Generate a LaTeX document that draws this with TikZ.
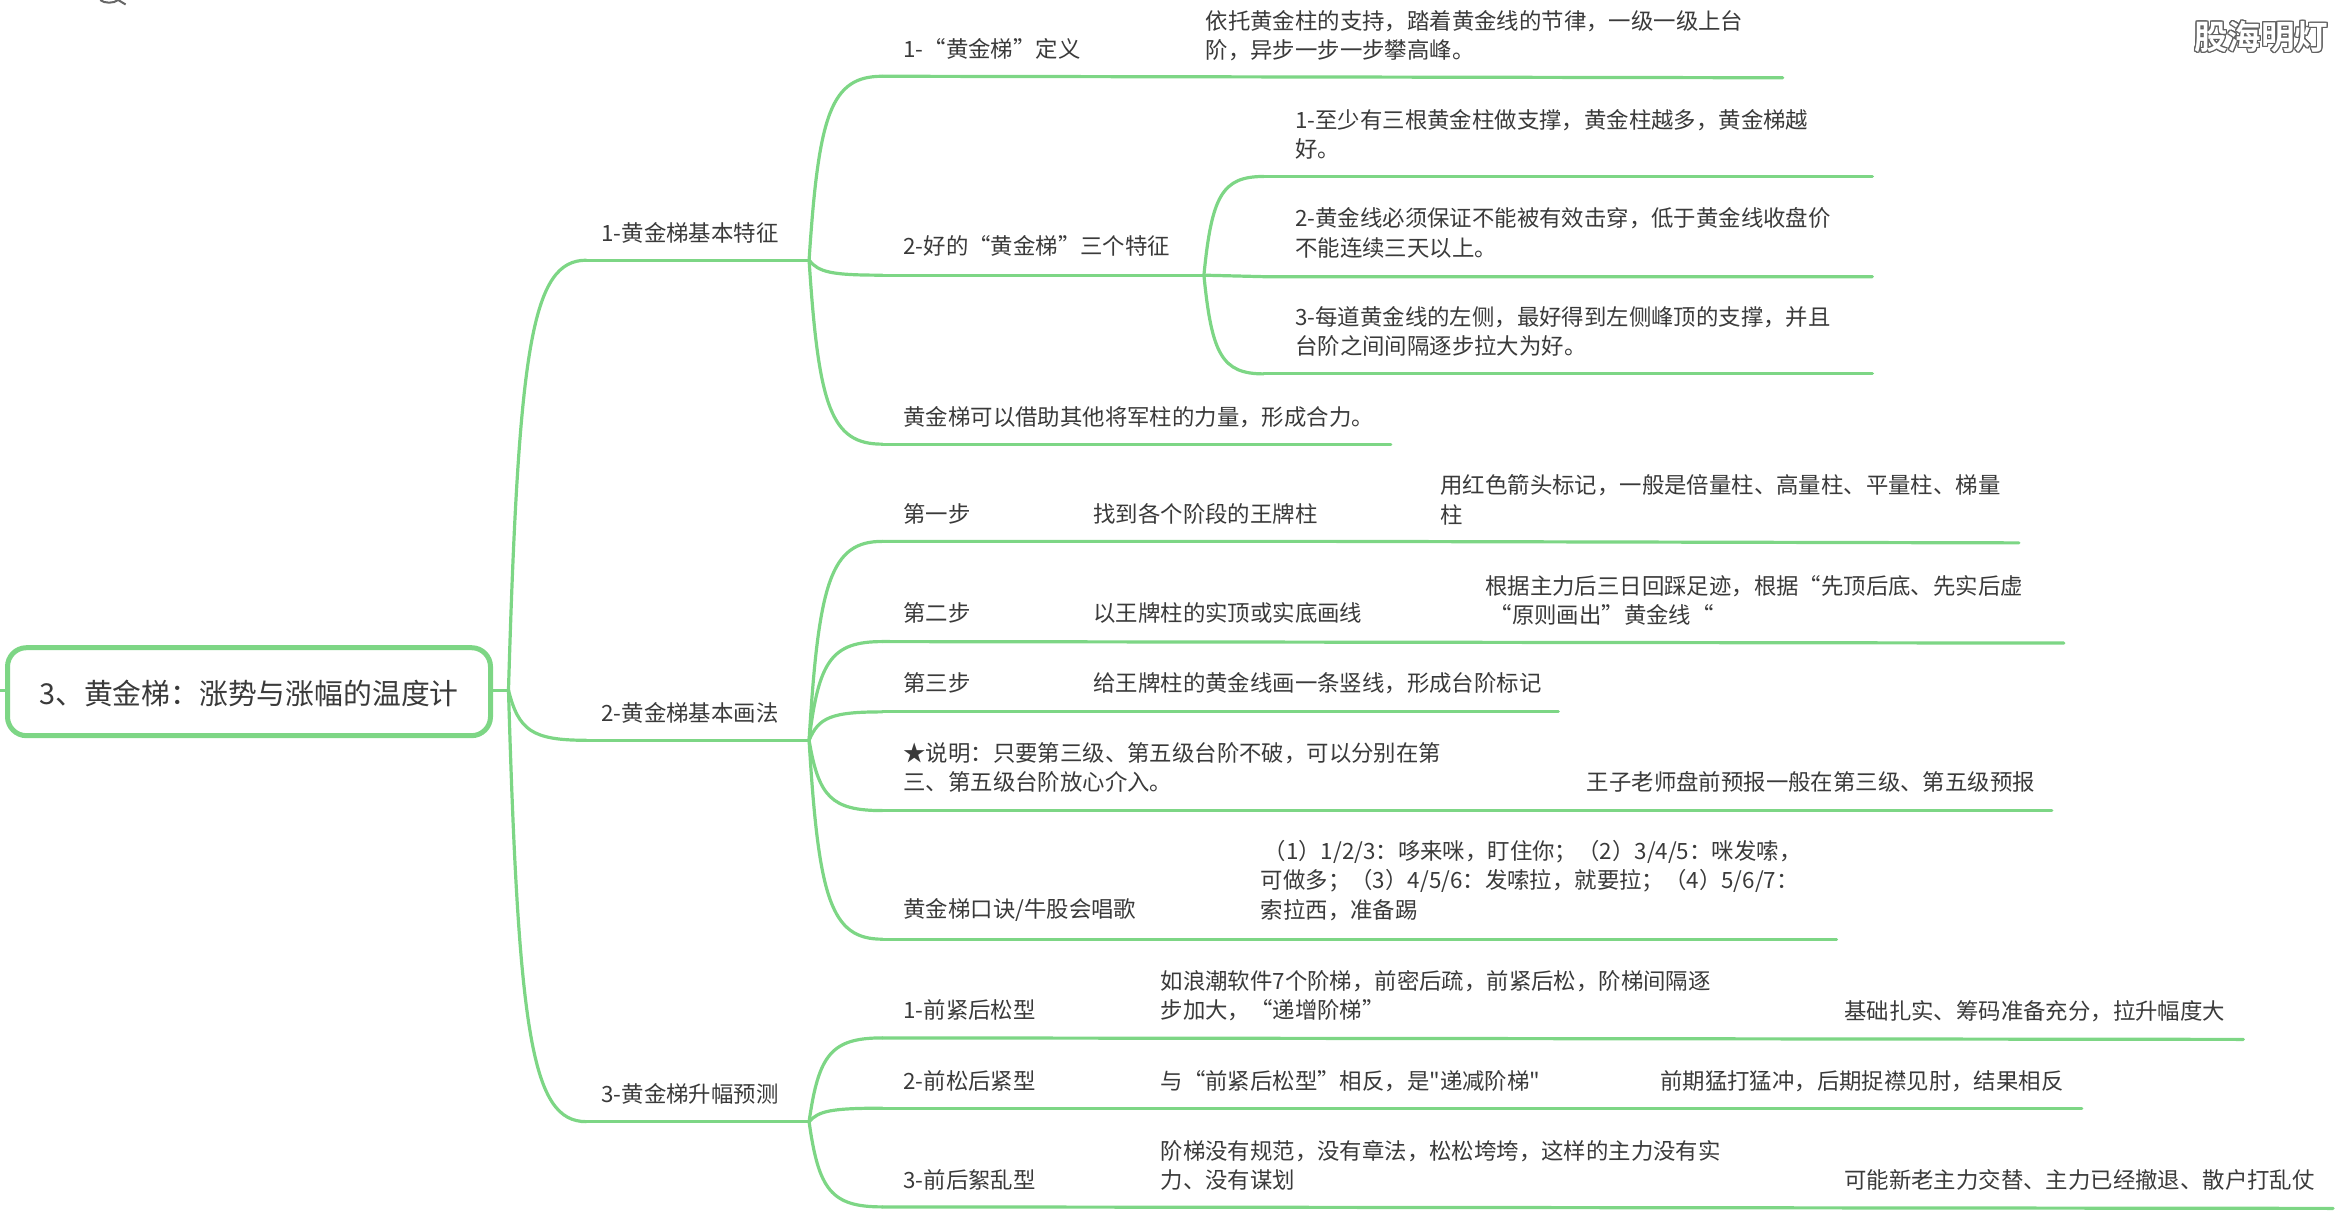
\documentclass[tikz,border=0pt]{standalone}
\usepackage{fontspec}
\usepackage[copies]{contour}
\setmainfont{Noto Sans CJK SC}[Ligatures=TeXOff]
\newfontfamily\wmfont{Noto Sans CJK SC Bold}[Ligatures=TeXOff]
\usetikzlibrary{calc}
\definecolor{lineG}{RGB}{125,214,133}
\definecolor{txt}{RGB}{58,58,58}
\newcommand{\zcm}{^^^^ff0c}
\newcommand{\zcl}{^^^^ff1a}
\newcommand{\zsc}{^^^^ff1b}
\newcommand{\zlp}{^^^^ff08}
\newcommand{\zrp}{^^^^ff09}
\tikzset{
  branch/.style={draw=lineG,line width=3.2pt,line cap=round},
  rootbox/.style={draw=lineG,line width=5pt,rounded corners=19pt,fill=white,minimum width=483pt,minimum height=88pt,inner sep=0pt,text=txt,font=\fontsize{28.8}{34}\selectfont},
  lbl/.style={anchor=west,inner sep=0pt,text=txt,align=left,yshift=-1pt,font=\fontsize{22.4}{29.3}\selectfont}
}
\newcommand{\curveTo}[2]{\draw[branch] (#1) let \p1=($(#2)-(#1)$) in .. controls ($(#1)+(0.13*\x1,0.8*\y1)$) and ($(#1)+(0.3*\x1,\y1)$) .. (#2);}
\begin{document}
\begin{tikzpicture}[x=1.4955pt,y=-1.4955pt]
\useasboundingbox (0,0) rectangle (1568,816.44);
% fragment of the search glyph cut by the top edge
\draw[draw=gray!80!black,line width=2pt] (67,0) .. controls (70,2.4) and (76,2.4) .. (79,0) (79,0) -- (84,3);
% root
\node[rootbox,text depth=0pt] (root) at (166.5,462.5) {\raisebox{-1.5pt}{3、黄金梯\zcl{}涨势与涨幅的温度计}};
\coordinate (stub) at (0,461.5);
\coordinate (J0) at (340,461.5);
\draw[branch] (stub) -- (root.west |- stub);
\draw[branch] (root.east |- J0) -- (J0);
% level 1
\coordinate (a1) at (392,174); \coordinate (J1) at (541,174);
\coordinate (a2) at (392,495); \coordinate (J2) at (541,495);
\coordinate (a3) at (392,750); \coordinate (J3) at (541,750);
\curveTo{J0}{a1} \draw[branch] (a1) -- (J1);
\curveTo{J0}{a2} \draw[branch] (a2) -- (J2);
\curveTo{J0}{a3} \draw[branch] (a3) -- (J3);
\node[lbl] (t1) at (402,155) {1-黄金梯基本特征};
\node[lbl] (t2) at (402,476) {2-黄金梯基本画法};
\node[lbl] (t3) at (402,731) {3-黄金梯升幅预测};
% branch 1 children
\coordinate (b1) at (590,51); \coordinate (b1e) at (1192,52);
\coordinate (b2) at (590,184); \coordinate (J4) at (805,184);
\coordinate (b3) at (590,297); \coordinate (b3e) at (930,297);
\curveTo{J1}{b1} \draw[branch] (b1) -- (b1e);
\curveTo{J1}{b2} \draw[branch] (b2) -- (J4);
\curveTo{J1}{b3} \draw[branch] (b3) -- (b3e);
\coordinate (c1) at (845,118); \coordinate (c1e) at (1252,118);
\coordinate (c2) at (845,185); \coordinate (c2e) at (1252,185);
\coordinate (c3) at (845,250); \coordinate (c3e) at (1252,250);
\curveTo{J4}{c1} \draw[branch] (c1) -- (c1e);
\draw[branch] (J4) -- (c2) -- (c2e);
\curveTo{J4}{c3} \draw[branch] (c3) -- (c3e);
\node[lbl] (n1) at (604,32) {1-“黄金梯”定义};
\node[lbl] (n1a) at (806,23) {依托黄金柱的支持\zcm{}踏着黄金线的节律\zcm{}一级一级上台\\阶\zcm{}异步一步一步攀高峰。};
\node[lbl] (n2) at (604,164) {2-好的“黄金梯”三个特征};
\node[lbl] (n2a) at (866,89) {1-至少有三根黄金柱做支撑\zcm{}黄金柱越多\zcm{}黄金梯越\\好。};
\node[lbl] (n2b) at (866,155) {2-黄金线必须保证不能被有效击穿\zcm{}低于黄金线收盘价\\不能连续三天以上。};
\node[lbl] (n2c) at (866,221) {3-每道黄金线的左侧\zcm{}最好得到左侧峰顶的支撑\zcm{}并且\\台阶之间间隔逐步拉大为好。};
\node[lbl] (n3) at (604,278) {黄金梯可以借助其他将军柱的力量\zcm{}形成合力。};
% branch 2 children
\coordinate (d1) at (590,362); \coordinate (d1m) at (890,362); \coordinate (d1e) at (1350,363);
\coordinate (d2) at (590,429); \coordinate (d2e) at (1380,430);
\coordinate (d3) at (590,476); \coordinate (d3e) at (1042,476);
\coordinate (d4) at (590,542); \coordinate (d4e) at (1372,542);
\coordinate (d5) at (590,628); \coordinate (d5e) at (1228,628);
\curveTo{J2}{d1} \draw[branch] (d1) -- (d1m) -- (d1e);
\curveTo{J2}{d2} \draw[branch] (d2) -- (d2e);
\curveTo{J2}{d3} \draw[branch] (d3) -- (d3e);
\curveTo{J2}{d4} \draw[branch] (d4) -- (d4e);
\curveTo{J2}{d5} \draw[branch] (d5) -- (d5e);
\node[lbl] (s1) at (604,343) {第一步};
\node[lbl] (s1a) at (731,343) {找到各个阶段的王牌柱};
\node[lbl] (s1b) at (963,333.5) {用红色箭头标记\zcm{}一般是倍量柱、高量柱、平量柱、梯量\\柱};
\node[lbl] (s2) at (604,409) {第二步};
\node[lbl] (s2a) at (731,409) {以王牌柱的实顶或实底画线};
\node[lbl] (s2b) at (993,401) {根据主力后三日回踩足迹\zcm{}根据“先顶后底、先实后虚\\\hspace*{0.2em}“原则画出”黄金线“};
\node[lbl] (s3) at (604,456) {第三步};
\node[lbl] (s3a) at (731,456) {给王牌柱的黄金线画一条竖线\zcm{}形成台阶标记};
\node[lbl] (s4) at (604,512.5) {★说明\zcl{}只要第三级、第五级台阶不破\zcm{}可以分别在第\\三、第五级台阶放心介入。};
\node[lbl] (s4a) at (1061,522) {王子老师盘前预报一般在第三级、第五级预报};
\node[lbl] (s5) at (604,608) {黄金梯口诀/牛股会唱歌};
\node[lbl] (s5a) at (843,588) {\hspace*{0.12em}\zlp{}1\zrp{}1/2/3\zcl{}哆来咪\zcm{}盯住你\zsc{}\zlp{}2\zrp{}3/4/5\zcl{}咪发嗦\zcm{}\\可做多\zsc{}\zlp{}3\zrp{}4/5/6\zcl{}发嗦拉\zcm{}就要拉\zsc{}\zlp{}4\zrp{}5/6/7\zcl{}\\索拉西\zcm{}准备踢};
% branch 3 children
\coordinate (e1) at (590,694); \coordinate (e1e) at (1500,695);
\coordinate (e2) at (590,741); \coordinate (e2e) at (1392,741);
\coordinate (e3) at (590,807); \coordinate (e3e) at (1560,808);
\curveTo{J3}{e1} \draw[branch] (e1) -- (e1e);
\curveTo{J3}{e2} \draw[branch] (e2) -- (e2e);
\curveTo{J3}{e3} \draw[branch] (e3) -- (e3e);
\node[lbl] (u1) at (604,674.5) {1-前紧后松型};
\node[lbl] (u1a) at (776,665) {如浪潮软件7个阶梯\zcm{}前密后疏\zcm{}前紧后松\zcm{}阶梯间隔逐\\步加大\zcm{}“递增阶梯”};
\node[lbl] (u1b) at (1233,675.5) {基础扎实、筹码准备充分\zcm{}拉升幅度大};
\node[lbl] (u2) at (604,722) {2-前松后紧型};
\node[lbl] (u2a) at (776,722) {与“前紧后松型”相反\zcm{}是"递减阶梯"};
\node[lbl] (u2b) at (1110,722) {前期猛打猛冲\zcm{}后期捉襟见肘\zcm{}结果相反};
\node[lbl] (u3) at (604,788) {3-前后絮乱型};
\node[lbl] (u3a) at (776,778.5) {阶梯没有规范\zcm{}没有章法\zcm{}松松垮垮\zcm{}这样的主力没有实\\力、没有谋划};
\node[lbl] (u3b) at (1233,788) {可能新老主力交替、主力已经撤退、散户打乱仗};
% watermark
\contourlength{1.2pt}
\node[inner sep=0pt,anchor=center,text=white] (wm) at (1512,25) {\wmfont\fontsize{33.5}{36}\selectfont\contour{gray!75!black}{股海明灯}};
\end{tikzpicture}
\end{document}
